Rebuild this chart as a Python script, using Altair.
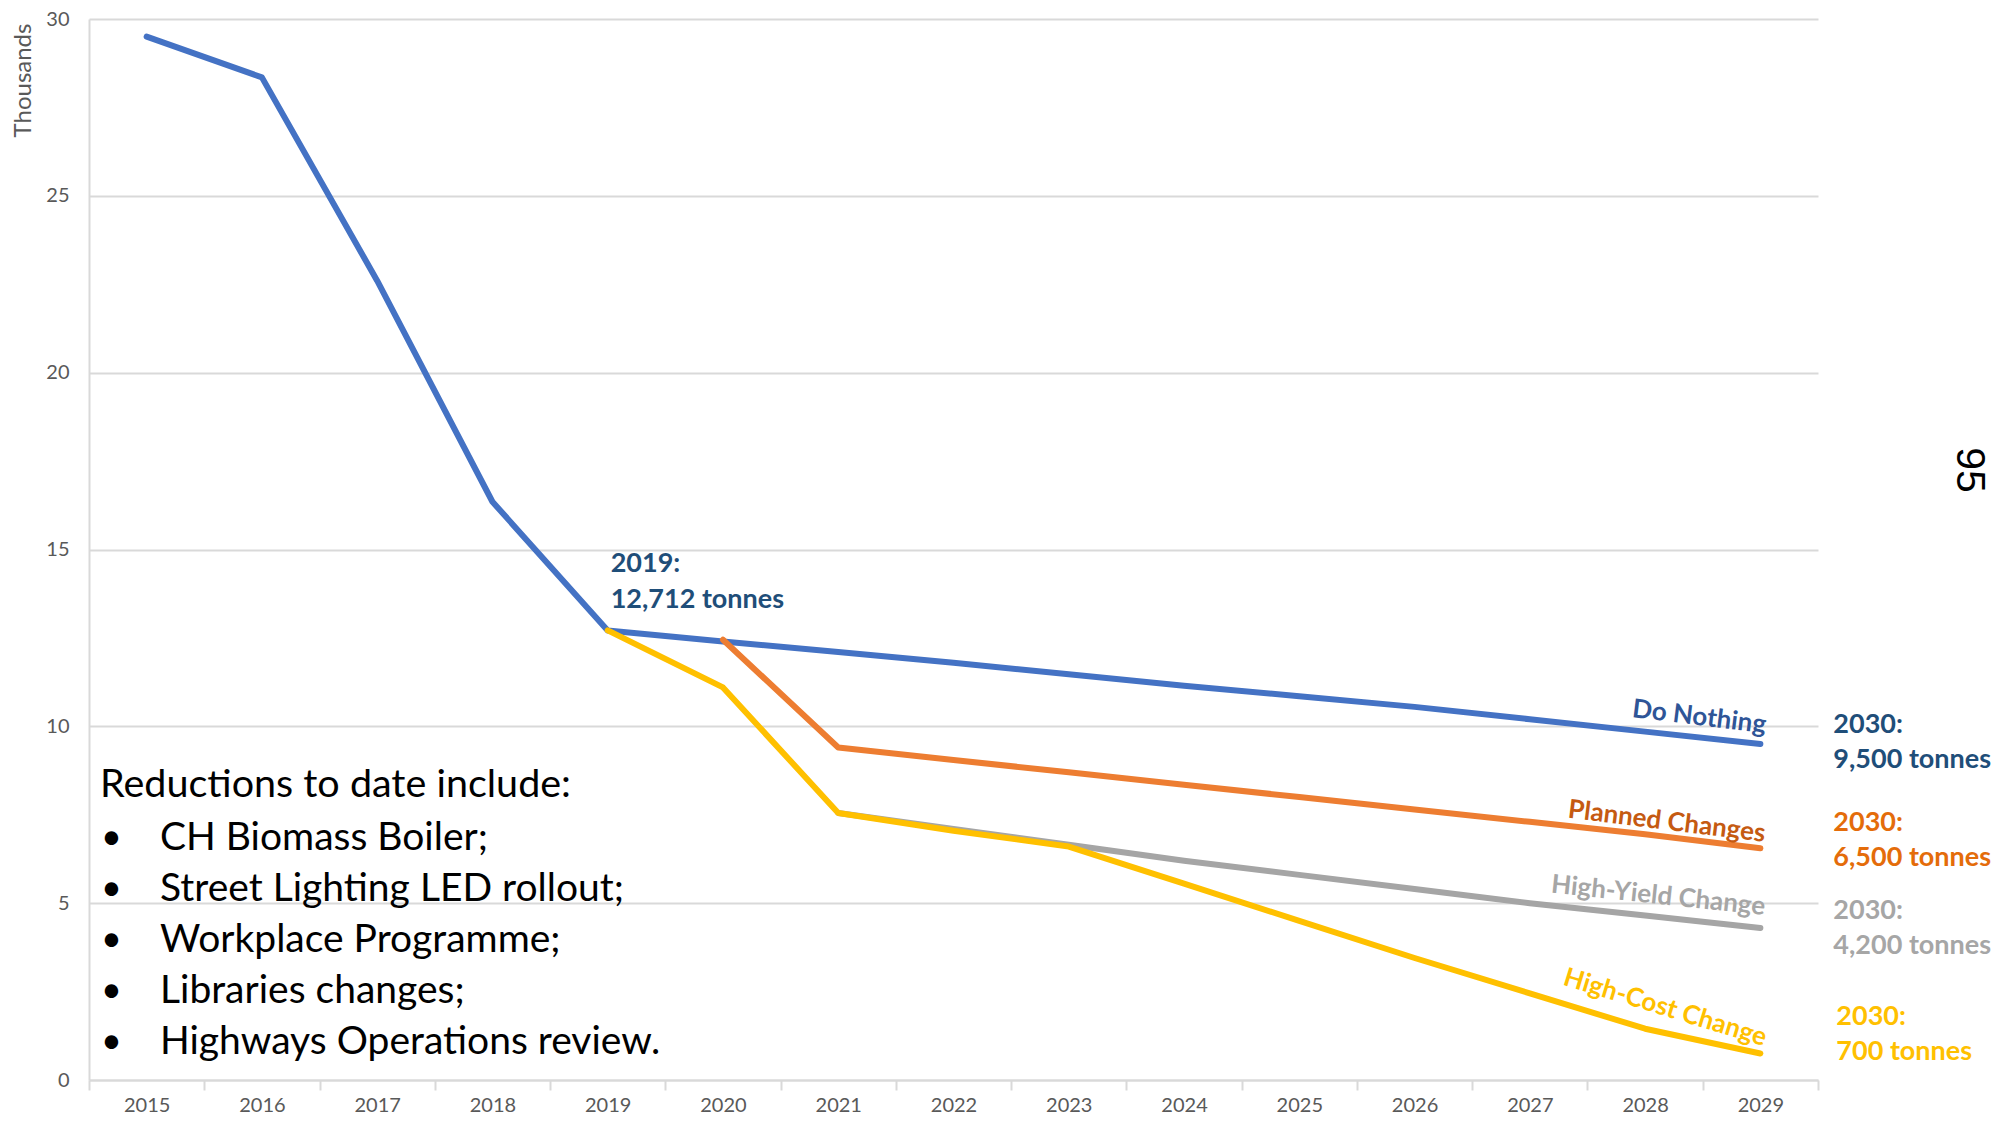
import altair as alt
import pandas as pd

years = [str(y) for y in range(2015, 2030)]
do_nothing = [29.5, 28.35, 22.6, 16.35, 12.712, 12.4, 12.1, 11.8, 11.47, 11.15, 10.85, 10.55, 10.2, 9.85, 9.5]
planned = [None] * 5 + [12.45, 9.4, 9.05, 8.7, 8.35, 8.0, 7.65, 7.3, 6.95, 6.55]
high_yield = [None] * 6 + [7.55, 7.1, 6.65, 6.2, 5.8, 5.4, 5.0, 4.65, 4.3]
high_cost = [None] * 4 + [12.712, 11.1, 7.55, 7.05, 6.6, 5.55, 4.5, 3.45, 2.45, 1.45, 0.75]

series_names = ["Do Nothing", "Planned Changes", "High-Yield Change", "High-Cost Change"]
series_values = [do_nothing, planned, high_yield, high_cost]
line_colors = ["#4472C4", "#ED7D31", "#A5A5A5", "#FFC000"]
label_colors = ["#2F5597", "#C55A11", "#A6A6A6", "#FFC000"]
end_colors = ["#1F4E79", "#E46C0A", "#A6A6A6", "#FFC000"]
end_texts = [["2030:", "9,500 tonnes"], ["2030:", "6,500 tonnes"],
             ["2030:", "4,200 tonnes"], ["2030:", "700 tonnes"]]
start_text = ["2019:", "12,712 tonnes"]
box_heading = "Reductions to date include:"
box_items = ["CH Biomass Boiler;", "Street Lighting LED rollout;", "Workplace Programme;",
             "Libraries changes;", "Highways Operations review."]
y_ticks = [0, 5, 10, 15, 20, 25, 30]

FONT = "Lato"
AX = "#595959"
GRID = "#D9D9D9"

x_enc = alt.X(
    "year:O",
    bandPosition=0.5,
    scale=alt.Scale(type="band", domain=years, paddingInner=0, paddingOuter=0),
    axis=alt.Axis(title=None, tickBand="extent", tickSize=10, tickColor=GRID, tickWidth=2,
                  domainColor=GRID, domainWidth=2, labelFont=FONT, labelFontSize=20,
                  labelColor=AX, labelPadding=5, labelAngle=0, grid=False),
)
y_enc = alt.Y(
    "value:Q",
    scale=alt.Scale(domain=[0, 30], nice=False, zero=True),
    axis=alt.Axis(values=y_ticks, title="Thousands", grid=True, gridColor=GRID, gridWidth=2,
                  ticks=False, domainColor=GRID, domainWidth=2, labelFont=FONT,
                  labelFontSize=20, labelColor=AX, labelPadding=20,
                  titleFont=FONT, titleFontSize=24, titleColor=AX, titleFontWeight="normal",
                  titleAngle=270, titleX=-66, titleY=61, titleAlign="center",
                  titleBaseline="middle"),
)

layers = []
for name, vals, col in zip(series_names, series_values, line_colors):
    d = pd.DataFrame([{"year": y, "value": v} for y, v in zip(years, vals) if v is not None])
    layers.append(
        alt.Chart(d).mark_line(strokeWidth=6, strokeCap="round", strokeJoin="round", color=col)
        .encode(x=x_enc, y=y_enc)
    )

# labels along lines (anchored at 2028 values)
label_specs = [(7, 52, -21), (7, 20, -15), (6, 11, -21), (17, 13, -26)]
for name, vals, col, (ang, dx, dy) in zip(series_names, series_values, label_colors, label_specs):
    d = pd.DataFrame([{"year": years[-2], "value": vals[-2], "label": name}])
    layers.append(
        alt.Chart(d).mark_text(font=FONT, fontSize=26, fontWeight="bold", color=col, angle=ang,
                               dx=dx, dy=dy, align="center", baseline="middle")
        .encode(x=x_enc, y=y_enc, text="label:N")
    )

# end annotations (first line is centred at y + dy)
end_offsets = [(73, -19), (73, -25), (73, -17), (76, -36)]
for vals, col, txt, (dx, dy) in zip(series_values, end_colors, end_texts, end_offsets):
    d = pd.DataFrame([{"year": years[-1], "value": vals[-1], "label": txt}])
    layers.append(
        alt.Chart(d).mark_text(font=FONT, fontSize=27, fontWeight="bold", color=col, dx=dx, dy=dy,
                               align="left", baseline="middle", lineHeight=35)
        .encode(x=x_enc, y=y_enc, text="label")
    )

# 2019 annotation
d19 = pd.DataFrame([{"year": years[4], "value": do_nothing[4], "label": start_text}])
layers.append(
    alt.Chart(d19).mark_text(font=FONT, fontSize=27, fontWeight="bold", color="#1F4E79", dx=3,
                             dy=-66, align="left", baseline="middle", lineHeight=36)
    .encode(x=x_enc, y=y_enc, text="label")
)

# text box
dh = pd.DataFrame([{"label": box_heading}])
layers.append(
    alt.Chart(dh).mark_text(font=FONT, fontSize=39.5, color="#000000", align="left", baseline="middle")
    .encode(x=alt.value(11), y=alt.value(766), text="label:N")
)
db = pd.DataFrame([{"label": ["•"] * len(box_items), "items": box_items}])
layers.append(
    alt.Chart(db).mark_text(font=FONT, fontSize=36, color="#000000", align="left",
                            baseline="middle", lineHeight=51)
    .encode(x=alt.value(12), y=alt.value(819), text="label")
)
layers.append(
    alt.Chart(db).mark_text(font=FONT, fontSize=39, color="#000000", align="left",
                            baseline="middle", lineHeight=51)
    .encode(x=alt.value(71), y=alt.value(819), text="items")
)

# page number
dp = pd.DataFrame([{"label": "95"}])
layers.append(
    alt.Chart(dp).mark_text(font="Liberation Sans", fontSize=41, color="#000000", angle=90,
                            align="center", baseline="middle")
    .encode(x=alt.value(1880), y=alt.value(451), text="label:N")
)

chart = (
    alt.layer(*layers)
    .properties(width=1729, height=1061, autosize=alt.AutoSizeParams(type="none"),
                padding={"left": 81, "top": 11, "right": 174, "bottom": 36},
                background="white")
    .configure_view(stroke=None)
)

chart.save("out.html", embed_options={"renderer": "svg", "actions": False})
